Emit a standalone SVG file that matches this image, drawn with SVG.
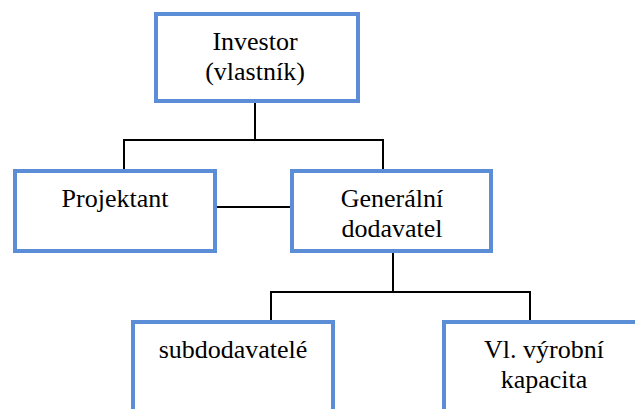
<svg xmlns="http://www.w3.org/2000/svg" width="635" height="409" viewBox="0 0 635 409">
<style>
.box{fill:#fff;stroke:#5B8ED6;stroke-width:4}
.t{font-family:"Liberation Serif","Times New Roman",serif;font-size:26px;fill:#000;text-anchor:middle}
.c{stroke:#000;stroke-width:2;fill:none}
</style>
<rect width="635" height="409" fill="#fff"/>
<g id="connectors">
<path class="c" d="M255,103V140M124,140H383M124,139V169M383,139V169"/>
<path class="c" d="M217,207H290"/>
<path class="c" d="M393,253V292M271,292H530M271,291V320M530,291V320"/>
</g>
<g id="investor">
<rect class="box" x="156" y="14" width="202" height="87"/>
<text class="t" x="255" y="50">Investor</text>
<text class="t" x="255" y="80">(vlastník)</text>
</g>
<g id="projektant">
<rect class="box" x="15" y="171" width="200" height="80"/>
<text class="t" x="115" y="207">Projektant</text>
</g>
<g id="generalni">
<rect class="box" x="292" y="171" width="199" height="80"/>
<text class="t" x="392" y="207">Generální</text>
<text class="t" x="392" y="237">dodavatel</text>
</g>
<g id="subdodavatele">
<rect class="box" x="133" y="322" width="200" height="100"/>
<text class="t" x="233" y="358">subdodavatelé</text>
</g>
<g id="vyrobni">
<rect class="box" x="444" y="322" width="200" height="100"/>
<text class="t" x="544" y="358">Vl. výrobní</text>
<text class="t" x="544" y="388">kapacita</text>
</g>
</svg>
